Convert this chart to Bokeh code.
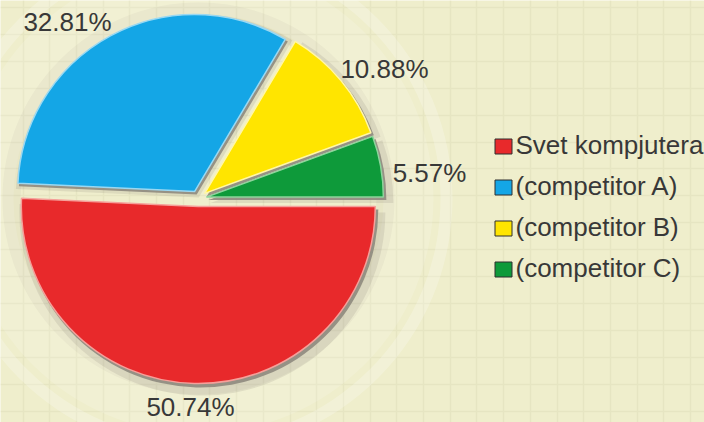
import numpy as np
from bokeh.plotting import figure
from bokeh.models import Range1d, Grid, FixedTicker, ColumnDataSource
from bokeh.core.properties import value
from bokeh.embed import file_html
from bokeh.resources import INLINE

# ---- data ----
names = ["Svet kompjutera", "(competitor A)", "(competitor B)", "(competitor C)"]
shares = [50.74, 32.81, 10.88, 5.57]
pct_labels = ["50.74%", "32.81%", "10.88%", "5.57%"]

# ---- styles / layout ----
fill_colors = ["#E8292B", "#14A6E6", "#FFE500", "#0E9A3A"]
edge_colors = ["#F5A09A", "#9AD8F2", "#FFF6A8", "#8ED49C"]
BG = "#EFEECC"
W, H = 704, 422
FONT = "Liberation Sans"
TXT = "#383838"


def sy(screen_y):
    # screen pixel row (reference image) -> data y
    return H - screen_y


CX, CY = 198, sy(198)   # pie centre
R = 177                 # radius
EXPLODE = 8

p = figure(width=W, height=H, x_range=Range1d(0, W), y_range=Range1d(0, H),
           output_backend="svg", toolbar_location=None,
           x_axis_type=None, y_axis_type=None, min_border=0)
p.outline_line_color = None
p.background_fill_color = BG
p.border_fill_color = BG

# faint paper grid
p.add_layout(Grid(dimension=0, ticker=FixedTicker(ticks=list(np.arange(423 % 26.7, W, 26.7))),
                  grid_line_color="#E6E5C2", grid_line_width=1.5))
p.add_layout(Grid(dimension=1, ticker=FixedTicker(ticks=list(np.arange(sy(7) % 26.9, H, 26.9))),
                  grid_line_color="#E6E5C2", grid_line_width=1.5))

# soft rings around the pie
p.annulus(x=CX, y=CY, inner_radius=185, outer_radius=235, fill_color="white",
          fill_alpha=0.14, line_color=None)
p.annulus(x=CX, y=CY, inner_radius=242, outer_radius=254, fill_color="white",
          fill_alpha=0.22, line_color=None)
p.annulus(x=CX, y=CY, inner_radius=178, outer_radius=196, fill_color="#8A867A",
          fill_alpha=0.07, line_color=None)

# ---- wedge geometry (clockwise from 3 o'clock) ----
frac = np.array(shares) / sum(shares)
cum = np.concatenate([[0], np.cumsum(frac)])
end_a = -2 * np.pi * cum[:-1]
start_a = -2 * np.pi * cum[1:]
mid = (start_a + end_a) / 2
vx = CX + EXPLODE * np.cos(mid)
vy = CY + EXPLODE * np.sin(mid)

src = ColumnDataSource(dict(x=vx, y=vy, sa=start_a, ea=end_a,
                            fill=fill_colors, edge=edge_colors))
shadow = ColumnDataSource(dict(x=vx + 2, y=vy - 3, sa=start_a, ea=end_a))
shadow2 = ColumnDataSource(dict(x=vx + 4, y=vy - 6, sa=start_a, ea=end_a))

p.wedge(x="x", y="y", radius=R + 6, start_angle="sa", end_angle="ea", source=shadow2,
        fill_color="#6E6A60", fill_alpha=0.14, line_color=None)
p.wedge(x="x", y="y", radius=R + 1, start_angle="sa", end_angle="ea", source=shadow,
        fill_color="#8E897E", fill_alpha=0.9, line_color=None)
p.wedge(x="x", y="y", radius=R, start_angle="sa", end_angle="ea", source=src,
        fill_color="fill", line_color="edge", line_width=1.5)

# ---- percentage labels ----
label_pos = [(190, 406), (67, 21), (384, 68), (429, 172)]   # screen positions
p.text(x=[q[0] for q in label_pos], y=[sy(q[1]) for q in label_pos], text=pct_labels,
       text_font=value(FONT), text_font_size="26px", text_color=TXT,
       text_align="center", text_baseline="middle")

# ---- legend ----
LEG_X, LEG_Y0, LEG_DY = 503, 146, 41
rows = np.arange(len(names))
ly = [sy(LEG_Y0 + LEG_DY * i) for i in rows]
p.rect(x=[LEG_X] * len(names), y=ly, width=17, height=15, fill_color=fill_colors,
       line_color="#2E2E2E", line_width=1)
p.text(x=[LEG_X + 12] * len(names), y=[v + 2 for v in ly], text=names,
       text_font=value(FONT), text_font_size="26px", text_color=TXT,
       text_align="left", text_baseline="middle")

open("out.html", "w").write(file_html(p, INLINE))
